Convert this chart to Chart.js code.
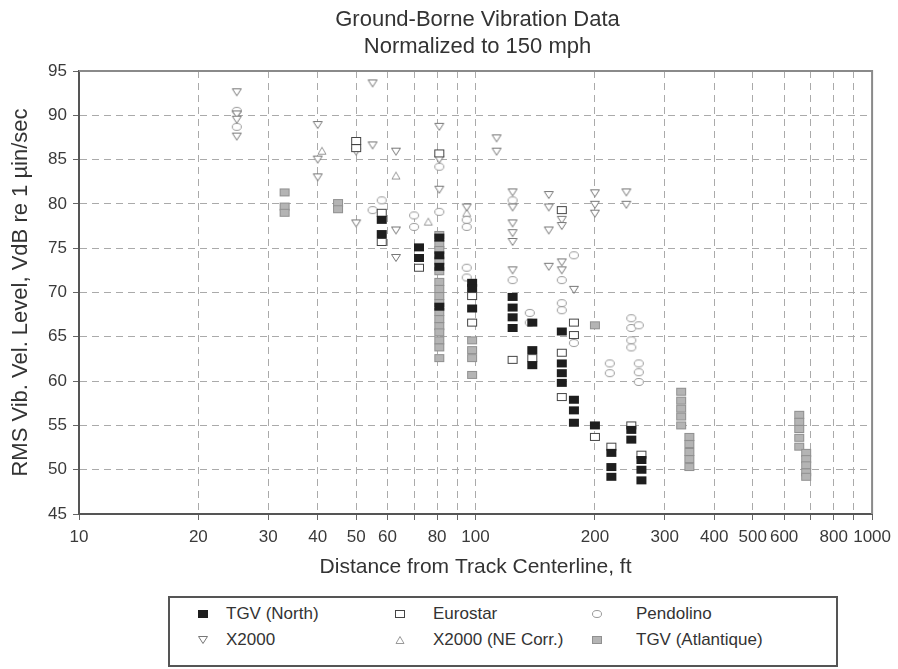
<!DOCTYPE html>
<html>
<head>
<meta charset="utf-8">
<script src="https://cdn.jsdelivr.net/npm/chart.js@4.4.0/dist/chart.umd.min.js"></script>
<style>
  body { margin: 0; background: #fff; font-family: "Liberation Sans", Arial, sans-serif; color: #333; }
  #wrap { position: relative; width: 898px; height: 669px; overflow: hidden; }
  #c { position: absolute; left: 0; top: 0; }
  .title { position: absolute; left: 79px; top: 5px; width: 797px; text-align: center; font-size: 22px; line-height: 27px; color: #333; }
  #legend { position: absolute; left: 168px; top: 596px; width: 670px; height: 71px; border: 2px solid #555; box-sizing: border-box; }
  .item { position: absolute; font-size: 17px; line-height: 20px; color: #333; white-space: nowrap; }
  .mk { position: absolute; }
</style>
</head>
<body>
<div id="wrap">
  <canvas id="c" width="898" height="590"></canvas>
  <div class="title">Ground-Borne Vibration Data<br>Normalized to 150 mph</div>
  <div id="legend"></div>
</div>
<script>
// distance (ft), RMS vibration velocity level (VdB)
const tgvNorth = [
  [58, 78.2], [58, 76.6], [72, 75.1], [72, 73.9],
  [81, 76.2], [81, 74.2], [81, 72.9], [81, 68.4],
  [98, 71.1], [98, 70.5], [98, 68.2],
  [124, 69.5], [124, 68.3], [124, 67.2], [124, 66.0],
  [139, 66.6], [139, 63.5], [139, 61.8],
  [165, 65.6], [165, 62.0], [165, 60.9], [165, 59.8],
  [177, 57.9], [177, 56.7], [177, 55.3],
  [200, 55.0], [220, 51.9], [220, 50.3], [220, 49.2],
  [247, 54.5], [247, 53.4], [262, 51.1], [262, 50.0], [262, 48.8]
];
const eurostar = [
  [50, 87.1], [50, 86.3], [58, 79.0], [58, 75.7], [72, 72.8], [81, 85.7],
  [98, 69.6], [98, 66.6], [124, 62.4], [139, 62.6],
  [165, 79.3], [165, 63.2], [165, 58.2], [177, 66.6], [177, 65.2],
  [200, 53.7], [220, 52.6], [247, 55.0], [262, 51.7]
];
const pendolino = [
  [25, 90.5], [25, 88.7], [55, 79.3], [58, 80.4], [70, 78.7], [70, 77.4],
  [81, 84.2], [81, 79.1], [95, 78.2], [95, 77.4], [95, 72.8], [95, 71.7],
  [124, 80.4], [124, 71.4], [137, 67.7], [137, 66.6],
  [165, 71.4], [165, 68.8], [165, 68.0], [177, 74.2], [177, 64.3],
  [218, 62.0], [218, 60.9], [247, 67.1], [247, 66.0], [247, 64.6], [247, 63.8],
  [258, 66.3], [258, 62.0], [258, 61.0], [258, 59.9]
];
const x2000 = [
  [25, 92.6], [25, 90.1], [25, 89.5], [25, 87.6],
  [40, 88.9], [40, 85.0], [40, 83.0], [50, 85.9], [50, 77.8],
  [55, 93.6], [55, 86.6], [63, 85.9], [63, 77.0], [63, 73.9],
  [81, 88.7], [81, 85.0], [81, 81.6], [95, 79.6], [113, 87.4], [113, 85.9],
  [124, 81.3], [124, 79.6], [124, 77.8], [124, 76.7], [124, 75.7], [124, 72.5],
  [153, 81.0], [153, 79.6], [153, 77.0], [153, 72.9],
  [165, 78.2], [165, 77.5], [165, 73.4], [165, 72.5], [177, 70.3],
  [200, 81.2], [200, 79.9], [200, 78.9], [240, 81.3], [240, 79.9]
];
const x2000NE = [
  [41, 86.0], [63, 83.2], [76, 78.0], [95, 79.0]
];
const tgvAtlantique = [
  [33, 81.3], [33, 79.7], [33, 79.0], [45, 80.1], [45, 79.4],
  [81, 76.5], [81, 75.5], [81, 74.8], [81, 73.6], [81, 72.4], [81, 71.2], [81, 70.4],
  [81, 69.6], [81, 68.8], [81, 67.8], [81, 67.0], [81, 66.2], [81, 65.5], [81, 64.6],
  [81, 63.8], [81, 62.6],
  [98, 64.6], [98, 63.5], [98, 62.6], [98, 60.7], [200, 66.3],
  [330, 58.8], [330, 57.8], [330, 56.9], [330, 56.0], [330, 55.0],
  [346, 53.7], [346, 52.9], [346, 52.0], [346, 51.2], [346, 50.3],
  [655, 56.2], [655, 55.4], [655, 54.6], [655, 53.6], [655, 52.6],
  [682, 51.9], [682, 51.2], [682, 50.5], [682, 49.7], [682, 49.2]
];
const xTicks = [10, 20, 30, 40, 50, 60, 70, 80, 90, 100, 200, 300, 400, 500, 600, 700, 800, 900, 1000];
const xLabels = [10, 20, 30, 40, 50, 60, 80, 100, 200, 300, 400, 500, 600, 800, 1000];

function marker(kind) {
  const c = document.createElement('canvas');
  c.width = 12; c.height = 10;
  const g = c.getContext('2d');
  g.lineWidth = 1;
  if (kind === 'tgvN') {
    g.fillStyle = '#1e1e1e'; g.fillRect(1, 1, 10, 8);
  } else if (kind === 'euro') {
    g.fillStyle = '#fff'; g.fillRect(1, 1, 10, 8);
    g.strokeStyle = '#444'; g.strokeRect(1.5, 1.5, 9, 7);
  } else if (kind === 'pend') {
    g.fillStyle = '#fff'; g.strokeStyle = '#999';
    g.beginPath(); g.ellipse(6, 5, 4.5, 3.5, 0, 0, Math.PI * 2); g.fill(); g.stroke();
  } else if (kind === 'x2000') {
    g.fillStyle = '#fff'; g.strokeStyle = '#777';
    g.beginPath(); g.moveTo(1.5, 1.5); g.lineTo(10.5, 1.5); g.lineTo(6, 8.5); g.closePath(); g.fill(); g.stroke();
  } else if (kind === 'ne') {
    g.fillStyle = '#fff'; g.strokeStyle = '#999';
    g.beginPath(); g.moveTo(2, 8.5); g.lineTo(10, 8.5); g.lineTo(6, 1.5); g.closePath(); g.fill(); g.stroke();
  } else {
    g.fillStyle = '#b4b4b4'; g.fillRect(1, 1, 10, 8);
    g.strokeStyle = '#909090'; g.strokeRect(1.5, 1.5, 9, 7);
  }
  return c;
}

const series = [
  { label: 'TGV (North)', data: tgvNorth, kind: 'tgvN' },
  { label: 'Eurostar', data: eurostar, kind: 'euro' },
  { label: 'X2000', data: x2000, kind: 'x2000' },
  { label: 'Pendolino', data: pendolino, kind: 'pend' },
  { label: 'X2000 (NE Corr.)', data: x2000NE, kind: 'ne' },
  { label: 'TGV (Atlantique)', data: tgvAtlantique, kind: 'atl' }
];

const frame = {
  id: 'frame',
  afterDraw(chart) {
    const a = chart.chartArea, ctx = chart.ctx;
    ctx.save();
    ctx.strokeStyle = '#8a8a8a'; ctx.lineWidth = 2;
    ctx.beginPath();
    ctx.moveTo(a.left, a.top); ctx.lineTo(a.right, a.top); ctx.lineTo(a.right, a.bottom);
    ctx.stroke();
    ctx.restore();
  }
};

new Chart(document.getElementById('c'), {
  type: 'scatter',
  data: {
    datasets: series.map(s => ({
      label: s.label,
      data: s.data.map(p => ({ x: p[0], y: p[1] })),
      pointStyle: marker(s.kind),
      pointRadius: 5,
      pointHoverRadius: 5
    }))
  },
  options: {
    responsive: false,
    animation: false,
    layout: { padding: { top: 71, right: 22, left: 0, bottom: 0 } },
    plugins: { legend: { display: false }, tooltip: { enabled: false } },
    scales: {
      x: {
        type: 'logarithmic', min: 10, max: 1000,
        afterFit: s => { s.height = 76; },
        afterBuildTicks: s => { s.ticks = xTicks.map(v => ({ value: v })); },
        ticks: {
          autoSkip: false, maxRotation: 0, padding: 7, color: '#3a3a3a',
          font: { family: 'Liberation Sans', size: 17 },
          callback: v => xLabels.includes(v) ? String(v) : ''
        },
        grid: { color: '#aaa', lineWidth: 1, tickLength: 6, tickColor: '#666' },
        border: { color: '#555', width: 2, dash: [7, 5] },
        title: {
          display: true, text: 'Distance from Track Centerline, ft', color: '#333',
          font: { family: 'Liberation Sans', size: 21 }, padding: { bottom: 10 }
        }
      },
      y: {
        min: 45, max: 95,
        afterFit: s => { s.width = 79; },
        ticks: {
          stepSize: 5, padding: 6, color: '#3a3a3a',
          font: { family: 'Liberation Sans', size: 17 }
        },
        grid: { color: '#aaa', lineWidth: 1, tickLength: 6, tickColor: '#666' },
        border: { color: '#555', width: 2, dash: [7, 5] },
        title: {
          display: true, text: 'RMS Vib. Vel. Level, VdB re 1 µin/sec', color: '#333',
          font: { family: 'Liberation Sans', size: 22 }, padding: { top: 8 }
        }
      }
    }
  },
  plugins: [frame]
});

// legend box below the chart: [series index, marker centre x, text x, row centre y] in page pixels
const legendPos = [
  [0, 203, 226, 614], [1, 400, 433, 614], [3, 597, 636, 614],
  [2, 203, 226, 640], [4, 400, 433, 640], [5, 597, 636, 640]
];
const lg = document.getElementById('legend');
legendPos.forEach(([i, mx, tx, cy]) => {
  const d = document.createElement('div');
  d.className = 'item';
  d.style.left = (tx - 170) + 'px';
  d.style.top = (cy - 598 - 10) + 'px';
  d.textContent = series[i].label;
  lg.appendChild(d);
  const m = marker(series[i].kind);
  m.className = 'mk';
  m.style.left = (mx - 170 - 6) + 'px';
  m.style.top = (cy - 598 - 5) + 'px';
  lg.appendChild(m);
});
</script>
</body>
</html>
